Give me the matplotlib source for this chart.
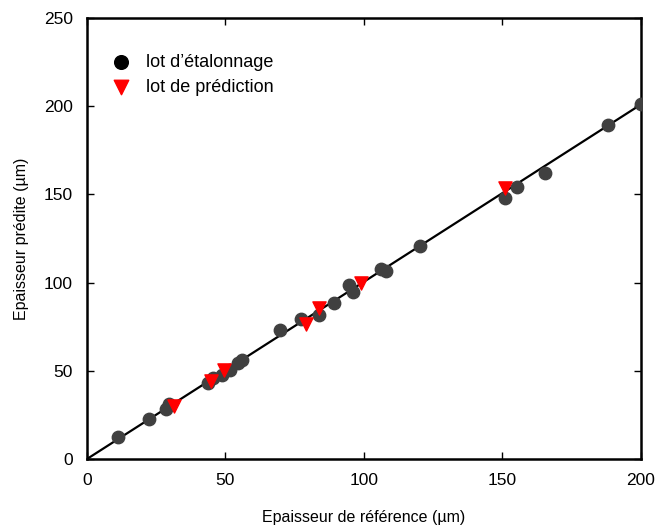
import numpy as np
import matplotlib.pyplot as plt

plt.rcParams['font.family'] = ['Liberation Sans', 'DejaVu Sans']

# lot d'étalonnage
cal_ref = [11.2, 22.4, 28.5, 29.6, 43.7, 45.5, 48.7, 51.6, 54.5, 56.0, 69.7, 77.3, 83.8,
           89.2, 94.6, 96.0, 106.3, 107.8, 120.2, 150.9, 155.2, 165.3, 188.1, 200.0]
cal_pred = [12.5, 22.7, 28.3, 31.0, 43.0, 46.0, 47.6, 50.5, 54.4, 56.0, 73.0, 79.4, 81.6,
            88.4, 98.6, 94.7, 107.6, 106.4, 120.7, 148.0, 154.2, 162.1, 189.3, 201.2]

# lot de prédiction
pred_ref = [31.4, 44.8, 49.5, 79.0, 83.8, 98.9, 150.9]
pred_pred = [30.2, 44.0, 50.2, 76.8, 85.6, 100.0, 153.6]

line_x = [0, 200]
line_y = [0, 201]


def main():
    fig = plt.figure(figsize=(6.56, 5.26), dpi=100)
    ax = fig.add_axes([0.1326, 0.1274, 0.8445, 0.8384])

    ax.plot(line_x, line_y, color='black', lw=1.6, zorder=2)
    ax.scatter(cal_ref, cal_pred, s=80, color='#404040', marker='o', zorder=3,
               label="lot d\u2019étalonnage")
    ax.scatter(pred_ref, pred_pred, s=90, color='red', marker='v', zorder=4,
               label='lot de prédiction')

    ax.set_xlim(0, 200)
    ax.set_ylim(0, 250)
    ax.set_xticks([0, 50, 100, 150, 200])
    ax.set_yticks([0, 50, 100, 150, 200, 250])
    ax.tick_params(direction='in', length=5, width=1, top=True, right=True,
                   labelsize=12.5, pad=10)
    for s in ax.spines.values():
        s.set_linewidth(1.8)

    ax.set_xlabel('Epaisseur de référence (µm)', fontsize=11.5, labelpad=16)
    ax.set_ylabel('Epaisseur prédite (µm)', fontsize=11.5, labelpad=11)

    leg = ax.legend(loc='upper left', frameon=False, fontsize=13,
                    bbox_to_anchor=(-0.036, 1.0), handletextpad=0.4,
                    borderaxespad=1.6, labelspacing=0.45, markerscale=1.1)
    for h in leg.legend_handles:
        if h.get_facecolor()[0][0] < 0.5:
            h.set_color('black')

    fig.savefig('out.png', dpi=100)


if __name__ == '__main__':
    main()
